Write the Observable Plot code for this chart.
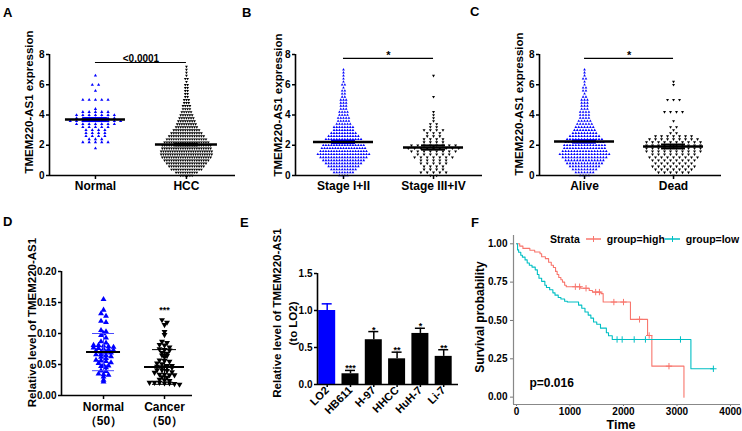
<!DOCTYPE html>
<html><head><meta charset="utf-8">
<script src="https://cdn.jsdelivr.net/npm/d3@7"></script>
<script src="https://cdn.jsdelivr.net/npm/@observablehq/plot@0.6"></script>
<style>
body{margin:0;background:#fff;}
#fig{position:relative;width:742px;height:431px;overflow:hidden;background:#fff;font-family:"Liberation Sans",Arial,sans-serif;}
.panel{position:absolute;}
.plab{position:absolute;font-weight:bold;font-size:13px;line-height:13px;}
.gp g[aria-label^="y-axis"] line,.gp g[aria-label^="y-axis"] path,.gp g[aria-label^="x-axis"] line,.gp g[aria-label^="x-axis"] path{stroke-width:1.5px;stroke:#000;}
.gg g[aria-label^="y-axis"] line,.gg g[aria-label^="y-axis"] path,.gg g[aria-label^="x-axis"] line,.gg g[aria-label^="x-axis"] path{stroke-width:1px;stroke:#777;}
#pE g[aria-label^="x-axis"] text{font-size:11px;}
</style>
</head><body>
<div id="fig"></div>
<script>
// ---------------- DATA ----------------
const binLevels = [0,0.2,0.4,0.6,0.8,1.0,1.2,1.4,1.6,1.8,2.0,2.2,2.4,2.6,2.8,3.0,3.2,3.4,3.6,3.8,4.0,4.2,4.4,4.6,4.8,5.0,5.2,5.4,5.6,5.8,6.0,6.2,6.4,6.6,6.8,7.0,7.2];

// Panel A (points per 0.2 level)
const catsA = ["Normal", "HCC"];
const countsA_Normal = [0,0,0,0,0,0,0,0,0,1,0,5,3,4,4,4,5,7,9,7,7,5,1,0,0,5,0,0,1,0,2,0,0,1,0,0,0];
const countsA_HCC = [6,10,14,16,18,20,22,23,23,22,22,20,18,16,14,12,10,9,8,7,6,5,4,4,3,3,2,2,2,2,2,1,2,1,1,1,1];
const meanA = [3.7, 2.05];
const semA = [0.10, 0.06];
const pA = "<0.0001";

// Panel B
const catsB = ["Stage I+II", "Stage III+IV"];
const countsB_I = [4,8,10,12,14,16,18,20,18,17,16,16,14,12,10,8,8,6,5,5,4,4,3,3,3,3,2,2,2,1,2,1,1,1,1,1,0];
const countsB_III = [2,5,4,4,5,5,7,6,8,9,8,4,4,3,3,4,2,2,1,1,1,1,0,0,0,0,1,0,0,0,0,0,0,1,0,0,0];
const meanB = [2.22, 1.85];
const semB = [0.08, 0.14];
const pB = "*";

// Panel C
const catsC = ["Alive", "Dead"];
const countsC_Alive = [4,7,9,11,13,14,16,18,16,15,15,14,13,11,9,8,7,6,5,4,4,4,3,3,3,3,2,1,2,2,1,1,2,1,1,1,0];
const countsC_Dead = [1,6,7,8,7,8,9,8,10,10,10,10,9,7,2,1,2,0,1,0,0,4,0,0,0,3,0,0,0,0,1,1,0,0,0,0,0];
const meanC = [2.25, 1.92];
const semC = [0.08, 0.13];
const pC = "*";

// Panel D
const catsD = ["Normal\n（50）", "Cancer\n（50）"];
const normalD = [0.155,0.138,0.132,0.128,0.120,0.118,0.105,0.103,0.100,0.097,0.093,0.087,0.085,0.081,0.081,0.080,0.079,0.078,0.077,0.076,0.075,0.074,0.073,0.072,0.070,0.070,0.069,0.066,0.066,0.065,0.063,0.062,0.060,0.057,0.056,0.055,0.053,0.052,0.049,0.048,0.047,0.045,0.040,0.039,0.035,0.034,0.033,0.030,0.025,0.022];
const cancerD = [0.122,0.118,0.114,0.103,0.098,0.087,0.085,0.082,0.081,0.078,0.075,0.074,0.073,0.069,0.068,0.065,0.064,0.062,0.057,0.056,0.055,0.052,0.051,0.048,0.048,0.047,0.046,0.046,0.045,0.041,0.041,0.040,0.038,0.037,0.034,0.034,0.033,0.033,0.030,0.029,0.026,0.025,0.024,0.021,0.021,0.021,0.020,0.020,0.019,0.018];
const meanD = [0.070, 0.046];
const sdD = [0.030, 0.028];
const starsD = ["", "***"];

// Panel E
const cellsE = ["LO2", "HB611", "H-97", "HHCC", "HuH-7", "Li-7"];
const valuesE = [1.00, 0.145, 0.605, 0.347, 0.69, 0.38];
const errorsE = [0.09, 0.045, 0.11, 0.09, 0.07, 0.09];
const starsE = ["", "***", "*", "**", "*", "**"];

// Panel F (Kaplan-Meier steps)
const strata = ["group=high", "group=low"];
const highT = [0,60,120,250,340,440,470,540,600,650,690,730,760,790,830,860,900,930,1200,1360,1420,1580,1620,2130,2450,2530,3130];
const highS = [1.0,0.985,0.97,0.958,0.946,0.935,0.915,0.903,0.88,0.86,0.845,0.82,0.80,0.78,0.765,0.75,0.73,0.72,0.71,0.695,0.685,0.675,0.62,0.507,0.402,0.202,0.0];
const lowT = [0,20,40,80,110,160,200,240,290,350,390,420,470,530,560,620,680,720,780,830,900,950,1160,1220,1280,1340,1390,1440,1500,1570,1680,1720,1790,3260,3680];
const lowS = [1.0,0.96,0.945,0.925,0.913,0.895,0.875,0.86,0.848,0.83,0.80,0.775,0.755,0.73,0.715,0.70,0.68,0.665,0.65,0.64,0.625,0.62,0.60,0.58,0.555,0.535,0.515,0.49,0.475,0.45,0.42,0.40,0.376,0.185,0.185];
const highCensor = [1100,1180,1300,1480,1550,1820,2000,2300,2480,2850];
const lowCensor = [1880,1975,2200,2410,3065,3680];
const pF = "p=0.016";
const timeTicks = [0,1000,2000,3000,4000];
const survTicks = [0,0.25,0.5,0.75,1.0];

// ---------------- HELPERS ----------------
const FONT = '"Liberation Sans", Arial, sans-serif';
const BLUE = "#0000ff";
const RED = "#F8766D", CYAN = "#00BFC4";
const fig = document.getElementById("fig");
const triDown = {draw(ctx, size) {const y = Math.sqrt(size / (Math.sqrt(3) * 3)); ctx.moveTo(0, y * 2); ctx.lineTo(-Math.sqrt(3) * y, -y); ctx.lineTo(Math.sqrt(3) * y, -y); ctx.closePath();}};
function style() {return {fontFamily: FONT, fontSize: "10px", fontWeight: "bold", background: "transparent", overflow: "visible", color: "#000"};}
function mount(node, left, top, id) {const d = document.createElement("div"); d.className = "panel"; if (id) d.id = id; d.style.left = left + "px"; d.style.top = top + "px"; d.appendChild(node); fig.appendChild(d);}
function expand(levels, counts) {return levels.flatMap((l, i) => d3.range(counts[i]).map(() => l));}
function swarm(values, center, dxUnits, step) {
  const out = [];
  for (const [, vs] of d3.groups(values, v => Math.round(v / step))) vs.forEach((v, i) => out.push({x: center + (i - (vs.length - 1) / 2) * dxUnits, y: v}));
  return out;
}
function panelLabel(t, left, top) {const d = document.createElement("div"); d.className = "plab"; d.textContent = t; d.style.left = left + "px"; d.style.top = top + "px"; fig.appendChild(d);}
function yTitle(text, dx, dy, size) {return Plot.text([text], {frameAnchor: "left", textAnchor: "middle", lineAnchor: "middle", rotate: -90, dx, dy, fontSize: size});}

function gpScatter(o) {
  const [mt, mr, mb, ml] = o.margin;
  const stats = o.cats.map((c, i) => ({c, pos: i + 1, mean: o.means[i], err: o.errs[i]}));
  const marks = [];
  o.groups.forEach((g, gi) => {
    marks.push(Plot.dot(swarm(g.values, gi + 1, g.dx / o.k, o.rowStep), {x: "x", y: "y", r: g.r, symbol: g.symbol, fill: g.fill}));
  });
  stats.forEach((s, gi) => {
    const ec = o.errColor[gi], cw = o.capHalf[gi] / o.k, mw = o.meanHalf[gi] / o.k;
    marks.push(Plot.ruleX([s], {x: "pos", y1: d => d.mean - d.err, y2: d => d.mean + d.err, stroke: ec, strokeWidth: o.errWidth}));
    marks.push(Plot.ruleY([s], {y: d => d.mean - d.err, x1: d => d.pos - cw, x2: d => d.pos + cw, stroke: ec, strokeWidth: o.errWidth}));
    marks.push(Plot.ruleY([s], {y: d => d.mean + d.err, x1: d => d.pos - cw, x2: d => d.pos + cw, stroke: ec, strokeWidth: o.errWidth}));
    marks.push(Plot.ruleY([s], {y: "mean", x1: d => d.pos - mw, x2: d => d.pos + mw, stroke: "#000", strokeWidth: o.meanWidth}));
  });
  marks.push(Plot.ruleX([o.xDomain[0]], {stroke: "#000", strokeWidth: 1.6}));
  marks.push(Plot.ruleY([o.yDomain[0]], {stroke: "#000", strokeWidth: 1.6}));
  if (o.sig) {
    marks.push(Plot.ruleY([o.sig.y], {x1: 1, x2: 2, stroke: "#000", strokeWidth: 1.2}));
    marks.push(Plot.text([o.sig.text], {x: 1.5, y: o.sig.y, lineAnchor: "bottom", dy: o.sig.dy, fontSize: o.sig.size}));
  }
  if (o.stars) {
    marks.push(Plot.text(o.stars.map((t, i) => ({t, pos: i + 1, top: d3.max(o.groups[i].values)})).filter(d => d.t), {x: "pos", y: "top", text: "t", lineAnchor: "bottom", dy: -7, fontSize: 9}));
  }
  marks.push(Plot.text(o.cats, {x: (d, i) => i + 1, frameAnchor: "bottom", textAnchor: "middle", lineAnchor: "top", dy: o.catDy, fontSize: 12, lineHeight: 1.15}));
  marks.push(yTitle(o.ylabel, o.ylabelDx, o.ylabelDy, 11.5));
  return Plot.plot({
    width: o.width, height: o.height, marginTop: mt, marginRight: mr, marginBottom: mb, marginLeft: ml,
    className: "gp", style: style(),
    x: {domain: o.xDomain, ticks: [1, 2], tickSize: 4, tickFormat: () => "", label: null},
    y: {domain: o.yDomain, ticks: o.yTicks, tickSize: 3, tickPadding: 2, tickFormat: o.yFmt, label: null},
    marks
  });
}

// ---------------- PANEL A ----------------
mount(gpScatter({
  width: 245, height: 200, margin: [54, 10, 25, 49], xDomain: [0.495, 2.539], k: 91,
  yDomain: [0, 8], yTicks: [0, 2, 4, 6, 8], yFmt: d3.format("d"), rowStep: 0.2,
  cats: catsA, means: meanA, errs: semA,
  groups: [
    {values: expand(binLevels, countsA_Normal), dx: 6.3, r: 1.2, symbol: "triangle", fill: BLUE},
    {values: expand(binLevels, countsA_HCC), dx: 2.3, r: 1.05, symbol: triDown, fill: "#000"}
  ],
  meanHalf: [30, 31], capHalf: [12, 12], errColor: [BLUE, "#000"], errWidth: 2, meanWidth: 2.5,
  sig: {y: 7.47, text: pA, dy: -1, size: 10},
  ylabel: "TMEM220-AS1 expression", ylabelDx: -20, ylabelDy: -13, catDy: 5
}), 0, 0);

// ---------------- PANEL B ----------------
mount(gpScatter({
  width: 245, height: 200, margin: [54, 3, 25, 55], xDomain: [0.467, 2.544], k: 90,
  yDomain: [0, 8], yTicks: [0, 2, 4, 6, 8], yFmt: d3.format("d"), rowStep: 0.2,
  cats: catsB, means: meanB, errs: semB,
  groups: [
    {values: expand(binLevels, countsB_I), dx: 2.7, r: 1.0, symbol: "triangle", fill: BLUE},
    {values: expand(binLevels, countsB_III), dx: 6.3, r: 1.1, symbol: triDown, fill: "#000"}
  ],
  meanHalf: [30, 30], capHalf: [12, 12], errColor: [BLUE, "#000"], errWidth: 2, meanWidth: 2.5,
  sig: {y: 7.74, text: pB, dy: 1, size: 11},
  ylabel: "TMEM220-AS1 expression", ylabelDx: -17, ylabelDy: -10, catDy: 5
}), 240, 0);

// ---------------- PANEL C ----------------
mount(gpScatter({
  width: 262, height: 200, margin: [54, 21, 25, 59], xDomain: [0.494, 2.539], k: 89,
  yDomain: [0, 8], yTicks: [0, 2, 4, 6, 8], yFmt: d3.format("d"), rowStep: 0.2,
  cats: catsC, means: meanC, errs: semC,
  groups: [
    {values: expand(binLevels, countsC_Alive), dx: 2.9, r: 1.0, symbol: "triangle", fill: BLUE},
    {values: expand(binLevels, countsC_Dead), dx: 6.0, r: 1.1, symbol: triDown, fill: "#000"}
  ],
  meanHalf: [30, 30], capHalf: [12, 12], errColor: [BLUE, "#000"], errWidth: 2, meanWidth: 2.5,
  sig: {y: 7.74, text: pC, dy: 1, size: 11},
  ylabel: "TMEM220-AS1 expression", ylabelDx: -20, ylabelDy: -11, catDy: 5
}), 480, 0);

// ---------------- PANEL D ----------------
mount(gpScatter({
  width: 240, height: 231, margin: [71, 48, 36, 61], xDomain: [0.311, 2.459], k: 61,
  yDomain: [0, 0.20], yTicks: [0, 0.05, 0.10, 0.15, 0.20], yFmt: d3.format(".2f"), rowStep: 0.005,
  cats: catsD, means: meanD, errs: sdD,
  groups: [
    {values: normalD, dx: 5, r: 2.2, symbol: "triangle", fill: BLUE},
    {values: cancerD, dx: 5, r: 2.2, symbol: triDown, fill: "#000"}
  ],
  meanHalf: [17, 20], capHalf: [11, 12], errColor: ["#4a4aff", "#000"], errWidth: 1, meanWidth: 2,
  stars: starsD,
  ylabel: "Relative level of TMEM220-AS1", ylabelDx: -29, ylabelDy: -11, catDy: 6
}), 0, 200);

// ---------------- PANEL E ----------------
{
  const k = 23.3, x0 = 0.584, hw = 8.5 / k, cw = 5 / k;
  const dataE = cellsE.map((c, i) => ({c, pos: i + 1, v: valuesE[i], e: errorsE[i], s: starsE[i], col: i === 0 ? BLUE : "#000"}));
  const plotE = Plot.plot({
    width: 225, height: 231, marginTop: 73, marginRight: 7, marginBottom: 47, marginLeft: 77,
    className: "gp", style: style(),
    color: {type: "identity"},
    x: {domain: [x0, x0 + 141 / k], ticks: dataE.map(d => d.pos), tickFormat: i => cellsE[i - 1], tickRotate: -45, tickSize: 3, tickPadding: 1, label: null},
    y: {domain: [0, 1.5], ticks: [0, 0.5, 1.0, 1.5], tickFormat: d3.format(".1f"), tickSize: 3, tickPadding: 2, label: null},
    marks: [
      Plot.rect(dataE, {x1: d => d.pos - hw, x2: d => d.pos + hw, y1: 0, y2: "v", fill: "col"}),
      Plot.ruleX(dataE, {x: "pos", y1: "v", y2: d => d.v + d.e, stroke: "col", strokeWidth: 1.5}),
      Plot.ruleY(dataE, {y: d => d.v + d.e, x1: d => d.pos - cw, x2: d => d.pos + cw, stroke: "col", strokeWidth: 1.5}),
      Plot.text(dataE.filter(d => d.s), {x: "pos", y: d => d.v + d.e, text: "s", lineAnchor: "bottom", dy: 1, fontSize: 9}),
      Plot.ruleX([x0], {stroke: "#000", strokeWidth: 1.6}),
      Plot.ruleY([0], {stroke: "#000", strokeWidth: 1.6}),
      yTitle("Relative level of TMEM220-AS1", -40, -16, 11.5),
      yTitle("(to LO2)", -24, -5.5, 11.5)
    ]
  });
  mount(plotE, 240, 200, "pE");
}

// ---------------- PANEL F ----------------
{
  const xDom = [-56, 4187], yDom = [-0.048, 1.054];
  const km = (T, S) => T.map((t, i) => ({t, s: S[i]}));
  const at = (T, S, t) => S[d3.bisectRight(T, t) - 1];
  const cens = [
    ...highCensor.map(t => ({t, s: at(highT, highS, t), col: RED})),
    ...lowCensor.map(t => ({t, s: at(lowT, lowS, t), col: CYAN}))
  ];
  const plotF = Plot.plot({
    width: 277, height: 231, marginTop: 35, marginRight: 2, marginBottom: 27, marginLeft: 48,
    className: "gg", style: style(),
    color: {type: "identity"},
    x: {domain: xDom, ticks: timeTicks, tickFormat: d3.format("d"), tickSize: 2, tickPadding: 1, label: null},
    y: {domain: yDom, ticks: survTicks, tickFormat: d3.format(".2f"), tickSize: 3, tickPadding: 3, label: null},
    marks: [
      Plot.ruleX([xDom[0]], {stroke: "#888", strokeWidth: 1.2}),
      Plot.ruleY([yDom[0]], {stroke: "#888", strokeWidth: 1.2}),
      Plot.line(km(highT, highS), {x: "t", y: "s", curve: "step-after", stroke: RED, strokeWidth: 1.1}),
      Plot.line(km(lowT, lowS), {x: "t", y: "s", curve: "step-after", stroke: CYAN, strokeWidth: 1.1}),
      Plot.dot(cens, {x: "t", y: "s", symbol: "plus", r: 2.2, stroke: "col", strokeWidth: 1}),
      Plot.text([pF], {frameAnchor: "bottom-left", textAnchor: "start", lineAnchor: "middle", dx: 16, dy: -21, fontSize: 12}),
      Plot.text(["Time"], {frameAnchor: "bottom", textAnchor: "middle", lineAnchor: "middle", dx: -6, dy: 20.5, fontSize: 12.5}),
      yTitle("Survival probability", -33, -3, 12)
    ]
  });
  mount(plotF, 465, 200);
  const leg = document.createElement("div");
  leg.style.cssText = "position:absolute;left:550px;top:233px;display:flex;align-items:center;font:bold 10.5px " + FONT + ";white-space:nowrap;line-height:12px;";
  const cols = [RED, CYAN];
  leg.innerHTML = `<span style="margin-right:6px">Strata</span>` + strata.map((s, i) =>
    `<svg width="15" height="8" style="margin-right:6px"><line x1="0" y1="4" x2="15" y2="4" stroke="${cols[i]}" stroke-width="1.5"/><line x1="7.5" y1="1" x2="7.5" y2="7" stroke="${cols[i]}" stroke-width="1"/></svg><span>${s}</span>`).join("");
  fig.appendChild(leg);
}

// panel letters
panelLabel("A", 3, 6); panelLabel("B", 242, 6); panelLabel("C", 470, 5);
panelLabel("D", 3, 215); panelLabel("E", 240, 216); panelLabel("F", 471, 216);
</script>
</body></html>
